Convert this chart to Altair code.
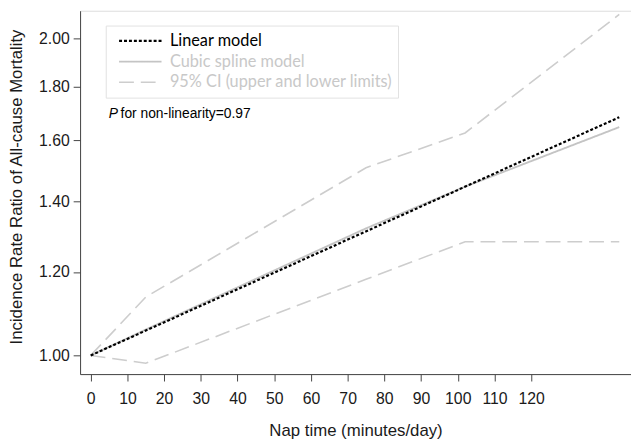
import altair as alt
import pandas as pd

# ---- data ----
series_names = ["Linear model", "Cubic spline model", "95% CI (upper and lower limits)"]

minutes_linear = [0, 144]
irr_linear = [1.00, 1.683]

minutes_spline = [0, 15, 45, 75, 102, 120, 144]
irr_spline = [1.00, 1.058, 1.182, 1.320, 1.446, 1.529, 1.647]

minutes_ci = [0, 15, 75, 102, 144]
irr_upper = [1.00, 1.136, 1.507, 1.626, 2.107]
irr_lower = [1.00, 0.983, 1.181, 1.282, 1.282]

x_ticks = list(range(0, 121, 10))
y_ticks = [1.0, 1.2, 1.4, 1.6, 1.8, 2.0]

note_x = [4.9]
note_y = [1.694]

# ---- tables ----
lin = pd.DataFrame({"minutes": minutes_linear, "irr": irr_linear,
                    "series": series_names[0], "part": "linear"})
spl = pd.DataFrame({"minutes": minutes_spline, "irr": irr_spline,
                    "series": series_names[1], "part": "spline"})
up = pd.DataFrame({"minutes": minutes_ci, "irr": irr_upper,
                   "series": series_names[2], "part": "upper"})
lo = pd.DataFrame({"minutes": minutes_ci, "irr": irr_lower,
                   "series": series_names[2], "part": "lower"})
ci = pd.concat([up, lo], ignore_index=True)
note = pd.DataFrame({"minutes": note_x, "irr": note_y,
                     "p": ["P"], "rest": ["for non-linearity=0.97"]})

AX_FONT = "Liberation Sans"

x_enc = alt.X(
    "minutes:Q",
    scale=alt.Scale(domain=[-2.9, 147.2], nice=False, zero=False),
    axis=alt.Axis(values=x_ticks, title="Nap time (minutes/day)", grid=False,
                  labelFont=AX_FONT, labelFontSize=16, labelColor="#1a1a1a",
                  labelPadding=10, tickSize=7, tickColor="#444444",
                  domainColor="#444444", labelFlush=False,
                  titleFont=AX_FONT, titleFontSize=17, titleFontWeight="normal",
                  titleColor="#1a1a1a", titleY=62, titleBaseline="alphabetic"),
)
y_enc = alt.Y(
    "irr:Q",
    scale=alt.Scale(type="log", domain=[0.960, 2.124], nice=False),
    axis=alt.Axis(values=y_ticks, format=".2f",
                  title="Incidence Rate Ratio of All-cause Mortality", grid=False,
                  labelFont=AX_FONT, labelFontSize=16, labelColor="#1a1a1a",
                  labelPadding=4, tickSize=7, tickColor="#444444",
                  domainColor="#444444", labelFlush=False,
                  titleFont=AX_FONT, titleFontSize=17, titleFontWeight="normal",
                  titleColor="#1a1a1a", titleAngle=270, titleX=-64, titleY=178,
                  titleAlign="center", titleBaseline="middle"),
)

legend = alt.Legend(
    title=None, orient="none", legendX=26, legendY=15,
    symbolType="stroke", symbolSize=1849, clipHeight=21, rowPadding=0,
    padding=5, symbolOffset=7, labelOffset=7,
    labelFont="Lato", labelFontSize=16.5, labelLimit=400,
    labelColor={"expr": "datum.label == 'Linear model' ? '#000000' : '#c8c8c8'"},
    strokeColor="#e2e2e2",
)

color_enc = alt.Color("series:N",
                      scale=alt.Scale(domain=series_names,
                                      range=["#000000", "#c4c4c4", "#cdcdcd"]),
                      legend=legend)
dash_enc = alt.StrokeDash("series:N",
                          scale=alt.Scale(domain=series_names,
                                          range=[[3, 2], [1, 0], [15, 7]]),
                          legend=legend)
width_enc = alt.StrokeWidth("series:N",
                            scale=alt.Scale(domain=series_names, range=[2.2, 1.6, 1.6]),
                            legend=legend)


def lines(df):
    return alt.Chart(df).mark_line().encode(
        x=x_enc, y=y_enc, color=color_enc, strokeDash=dash_enc,
        strokeWidth=width_enc, detail="part:N")


note_p = alt.Chart(note).mark_text(
    align="left", baseline="middle", font=AX_FONT, fontSize=14,
    fontStyle="italic", color="#000000").encode(x="minutes:Q", y="irr:Q", text="p:N")
note_rest = alt.Chart(note).mark_text(
    align="left", baseline="middle", font=AX_FONT, fontSize=14, dx=12,
    color="#000000").encode(x="minutes:Q", y="irr:Q", text="rest:N")

chart = alt.layer(lines(ci), lines(spl), lines(lin), note_p, note_rest).properties(
    width=558, height=368,
    autosize=alt.AutoSizeParams(type="none"),
    padding={"left": 73, "top": 0, "right": 0, "bottom": 66},
).configure_view(stroke=None).configure(background="white")

chart.save("out.html", embed_options={"renderer": "svg", "actions": False})
